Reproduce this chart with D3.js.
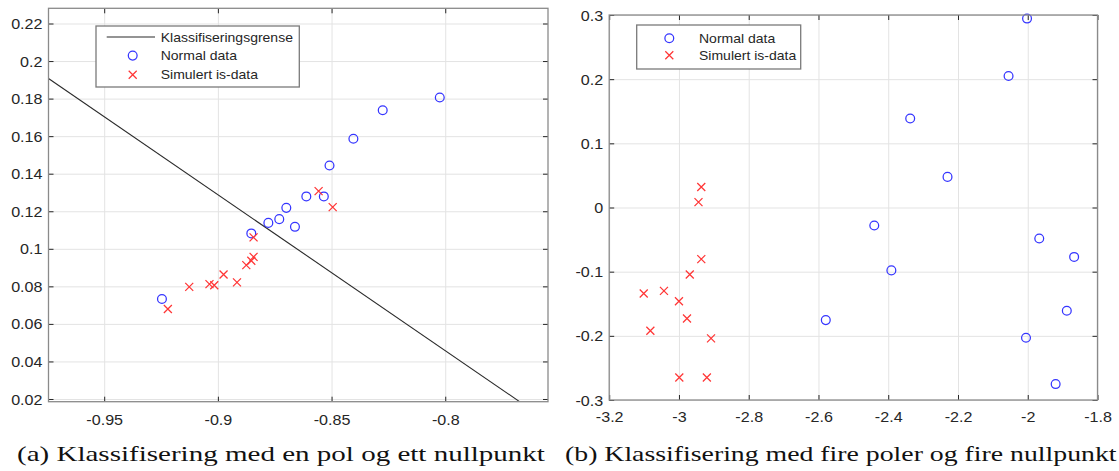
<!DOCTYPE html>
<html>
<head>
<meta charset="utf-8">
<script src="https://cdn.jsdelivr.net/npm/d3@7"></script>
<style>
  body { margin: 0; background: #fff; }
  svg { display: block; }
</style>
</head>
<body>
<svg width="1119" height="471"></svg>
<script>
// (a) en pol og ett nullpunkt
const normalA = [
    [-0.8024, 0.1806], [-0.8275, 0.1738], [-0.8404, 0.1586], [-0.8509, 0.1444],
    [-0.8611, 0.1279], [-0.8534, 0.1279], [-0.8699, 0.1218], [-0.8730, 0.1158],
    [-0.8778, 0.1138], [-0.8661, 0.1117], [-0.8853, 0.1082], [-0.9246, 0.0733]
];
const isA = [
    [-0.8557, 0.1307], [-0.8495, 0.1222], [-0.8843, 0.1061], [-0.8843, 0.0957],
    [-0.8853, 0.0936], [-0.8875, 0.0913], [-0.8975, 0.0863], [-0.8916, 0.0821],
    [-0.9037, 0.0812], [-0.9016, 0.0806], [-0.9126, 0.0797], [-0.9220, 0.0679]
];
const boundaryA = [[-0.9745, 0.1907], [-0.7673, 0.0186]];
const xTicksA = [-0.95, -0.9, -0.85, -0.8];
const yTicksA = [0.02, 0.04, 0.06, 0.08, 0.1, 0.12, 0.14, 0.16, 0.18, 0.2, 0.22];

// (b) fire poler og fire nullpunkt
const normalB = [
    [-2.002, 0.2944], [-2.055, 0.205], [-2.337, 0.1386], [-2.230, 0.0477],
    [-2.440, -0.028], [-1.967, -0.0483], [-1.867, -0.077], [-2.391, -0.098],
    [-2.579, -0.1755], [-1.888, -0.161], [-2.005, -0.203], [-1.920, -0.2752]
];
const isB = [
    [-2.936, 0.032], [-2.944, 0.0083], [-2.936, -0.0805], [-2.969, -0.1044],
    [-3.101, -0.134], [-3.043, -0.130], [-3.000, -0.146], [-2.977, -0.173],
    [-3.082, -0.192], [-2.908, -0.204], [-2.999, -0.265], [-2.920, -0.265]
];
const xTicksB = [-3.2, -3, -2.8, -2.6, -2.4, -2.2, -2, -1.8];
const yTicksB = [-0.3, -0.2, -0.1, 0, 0.1, 0.2, 0.3];

const legendA = ["Klassifiseringsgrense", "Normal data", "Simulert is-data"];
const legendB = ["Normal data", "Simulert is-data"];
const captions = [
    "(a) Klassifisering med en pol og ett nullpunkt",
    "(b) Klassifisering med fire poler og fire nullpunkt"
];

const svg = d3.select("svg");
const SX = 1.15;           // the picture is a bit wider than tall
const sans = "'Liberation Sans', Arial, sans-serif";
const blue = "#3535ff";
const red = "#ff3535";

function cross(sel, r) {
    sel.append("path")
        .attr("d", `M${-r},${-r}L${r},${r}M${-r},${r}L${r},${-r}`)
        .attr("stroke", red)
        .attr("stroke-width", 1.25)
        .attr("fill", "none");
}

function panel(cfg) {
    const x = d3.scaleLinear().domain(cfg.xDomain).range([cfg.left, cfg.right]);
    const y = d3.scaleLinear().domain(cfg.yDomain).range([cfg.bottom, cfg.top]);
    const w = cfg.right - cfg.left;
    const h = cfg.bottom - cfg.top;
    const g = svg.append("g");

    // grid
    g.append("g")
        .attr("transform", `translate(0,${cfg.bottom})`)
        .call(d3.axisBottom(x).tickValues(cfg.xTicks).tickSize(-h).tickFormat(""))
        .call(s => s.select(".domain").remove())
        .selectAll("line").attr("stroke", "#e3e3e3");
    g.append("g")
        .attr("transform", `translate(${cfg.left},0)`)
        .call(d3.axisLeft(y).tickValues(cfg.yTicks).tickSize(-w).tickFormat(""))
        .call(s => s.select(".domain").remove())
        .selectAll("line").attr("stroke", "#e3e3e3");

    svg.append("clipPath").attr("id", "clip" + cfg.name)
        .append("rect")
        .attr("x", cfg.left).attr("y", cfg.top)
        .attr("width", w).attr("height", h);

    if (cfg.boundary) {
        g.append("path")
            .datum(cfg.boundary)
            .attr("clip-path", `url(#clip${cfg.name})`)
            .attr("d", d3.line().x(d => x(d[0])).y(d => y(d[1])))
            .attr("stroke", "#2a2a2a")
            .attr("stroke-width", 1.1)
            .attr("fill", "none");
    }

    g.append("g").selectAll("circle")
        .data(cfg.normal)
        .enter()
        .append("circle")
        .attr("cx", d => x(d[0]))
        .attr("cy", d => y(d[1]))
        .attr("r", 4.4)
        .attr("fill", "none")
        .attr("stroke", blue)
        .attr("stroke-width", 1.25);

    g.append("g").selectAll("g")
        .data(cfg.ice)
        .enter()
        .append("g")
        .attr("transform", d => `translate(${x(d[0])},${y(d[1])})`)
        .call(cross, 4);

    // ticks on all four sides, pointing in
    const ax = (axis, tx, ty) => g.append("g")
        .attr("transform", `translate(${tx},${ty})`)
        .call(axis.tickSizeOuter(0))
        .call(s => s.select(".domain").remove())
        .attr("font-family", sans)
        .attr("font-size", 14)
        .attr("color", "#262626");

    const fmt = d => String(d);
    ax(d3.axisBottom(x).tickValues(cfg.xTicks).tickSize(-5).tickFormat(fmt), 0, cfg.bottom)
        .selectAll("text")
        .attr("y", 0).attr("dy", 0)
        .attr("transform", `translate(0,${cfg.labelBase}) scale(${SX},1)`);
    ax(d3.axisLeft(y).tickValues(cfg.yTicks).tickSize(-5).tickFormat(fmt), cfg.left, 0)
        .selectAll("text")
        .attr("x", 0).attr("dy", "0.36em")
        .attr("transform", `translate(-6,0) scale(${SX},1)`);
    ax(d3.axisTop(x).tickValues(cfg.xTicks).tickSize(-5).tickFormat(""), 0, cfg.top);
    ax(d3.axisRight(y).tickValues(cfg.yTicks).tickSize(-5).tickFormat(""), cfg.right, 0);

    g.append("rect")
        .attr("x", cfg.left).attr("y", cfg.top)
        .attr("width", w).attr("height", h)
        .attr("fill", "none")
        .attr("stroke", "#8a8a8a")
        .attr("stroke-width", 1.3);

    // legend
    const L = cfg.legend;
    const lg = g.append("g");
    lg.append("rect")
        .attr("x", L.x).attr("y", L.y)
        .attr("width", L.w).attr("height", L.h)
        .attr("fill", "#fff")
        .attr("stroke", "#7a7a7a")
        .attr("stroke-width", 1.3);
    const row = lg.selectAll("g.row")
        .data(L.items)
        .enter()
        .append("g")
        .attr("class", "row")
        .attr("transform", (d, i) => `translate(0,${L.rows[i]})`);
    row.each(function (d) {
        const r = d3.select(this);
        if (d.type === "line") {
            r.append("line")
                .attr("x1", L.lineX[0]).attr("x2", L.lineX[1])
                .attr("stroke", "#2a2a2a").attr("stroke-width", 1.1);
        } else if (d.type === "circle") {
            r.append("circle").attr("cx", L.mx).attr("r", 4.4)
                .attr("fill", "none").attr("stroke", blue).attr("stroke-width", 1.25);
        } else {
            r.append("g").attr("transform", `translate(${L.mx},0)`).call(cross, 4);
        }
        r.append("text")
            .attr("transform", `translate(${L.tx},4.5) scale(1.12,1)`)
            .attr("font-family", sans)
            .attr("font-size", 12.5)
            .attr("fill", "#262626")
            .text(d.label);
    });
}

panel({
    name: "a",
    xDomain: [-0.9745, -0.7548], yDomain: [0.01856, 0.2281],
    left: 48.5, right: 548, top: 8.3, bottom: 401.7,
    xTicks: xTicksA, yTicks: yTicksA, labelBase: 23.3,
    normal: normalA, ice: isA, boundary: boundaryA,
    legend: {
        x: 96, y: 26, w: 203.3, h: 61, rows: [37, 55.6, 74.7],
        lineX: [106.7, 155], mx: 132.7, tx: 160.7,
        items: [
            { label: legendA[0], type: "line" },
            { label: legendA[1], type: "circle" },
            { label: legendA[2], type: "cross" }
        ]
    }
});

panel({
    name: "b",
    xDomain: [-3.2, -1.8], yDomain: [-0.3, 0.3],
    left: 609.2, right: 1097.5, top: 15, bottom: 400,
    xTicks: xTicksB, yTicks: yTicksB, labelBase: 21.8,
    normal: normalB, ice: isB, boundary: null,
    legend: {
        x: 636.7, y: 25, w: 164, h: 44, rows: [38.3, 55.3],
        mx: 669.3, tx: 699,
        items: [
            { label: legendB[0], type: "circle" },
            { label: legendB[1], type: "cross" }
        ]
    }
});

// captions under the panels; (b) is squeezed a little so it ends at the edge
const capX = [17, 565];
const capW = [528, 552];
svg.selectAll("text.caption")
    .data(captions)
    .enter()
    .append("text")
    .attr("class", "caption")
    .attr("font-family", "'Liberation Serif', 'Times New Roman', serif")
    .attr("font-size", 22)
    .attr("fill", "#111")
    .text(d => d)
    .attr("transform", function (d, i) {
        const s = capW[i] / this.getComputedTextLength();
        return `translate(${capX[i]},461) scale(${s},1)`;
    });
</script>
</body>
</html>
